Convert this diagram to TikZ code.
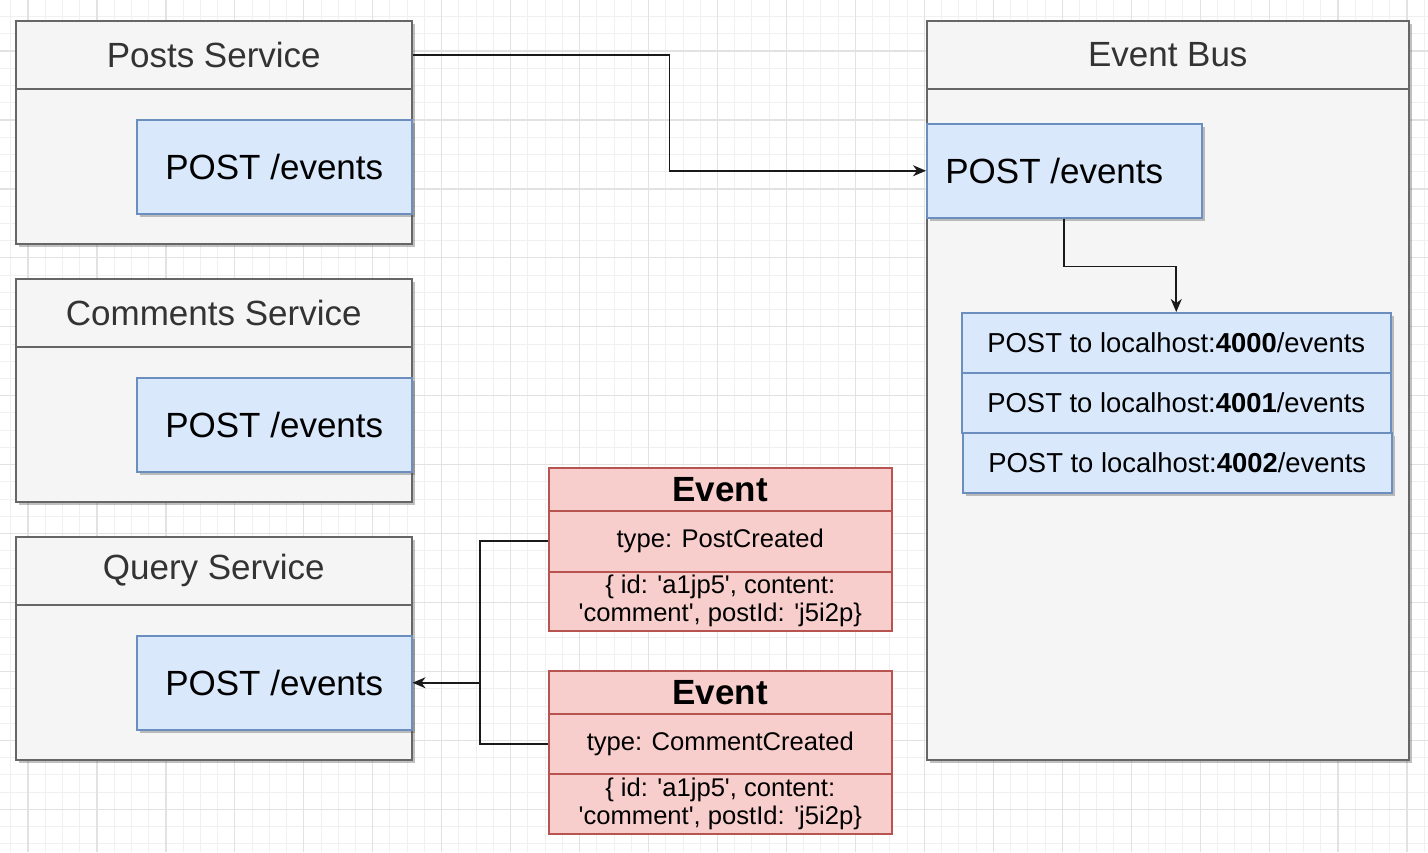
\documentclass[tikz,border=0pt]{standalone}
\usepackage{fontspec}
\setmainfont{Liberation Sans}
\usetikzlibrary{arrows.meta,shadows,calc}

\definecolor{grayfill}{HTML}{F5F5F5}
\definecolor{graystroke}{HTML}{666666}
\definecolor{bluefill}{HTML}{DAE8FC}
\definecolor{bluestroke}{HTML}{6C8EBF}
\definecolor{redfill}{HTML}{F8CECC}
\definecolor{redstroke}{HTML}{B85450}
\definecolor{headtext}{HTML}{333333}
\definecolor{linecol}{HTML}{1A1A1A}
\definecolor{gridmajor}{HTML}{E2E2E2}
\definecolor{gridminor}{HTML}{F0F0F0}

\newcommand{\sq}{\textquotesingle}

\tikzset{
  shade3/.style={drop shadow={shadow xshift=1.5pt,shadow yshift=-1.5pt,opacity=0.35,fill=black!70}},
  base/.style={line width=0.75pt,inner sep=0pt,anchor=north west},
  service/.style={base,draw=graystroke,fill=grayfill,minimum width=#1,minimum height=111.5pt,shade3},
  header/.style={base,draw=graystroke,minimum width=#1,minimum height=34pt,text=headtext,
    font=\fontsize{17.5pt}{21pt}\selectfont},
  endpoint/.style={base,draw=bluestroke,fill=bluefill,minimum width=137.5pt,minimum height=47pt,
    font=\fontsize{17.5pt}{21pt}\selectfont,shade3},
  target/.style={base,draw=bluestroke,fill=bluefill,minimum width=214.5pt,minimum height=30pt,
    font=\fontsize{13.7pt}{16pt}\selectfont,shade3},
  evpart/.style={base,draw=redstroke,fill=redfill,minimum width=171.5pt,minimum height=#1,
    align=center,font=\fontsize{12.8pt}{14pt}\selectfont},
  evtitle/.style={evpart=21.5pt,font=\fontsize{17.5pt}{21pt}\selectfont\bfseries},
  conn/.style={draw=linecol,line width=0.8pt},
  tip/.style={-{Stealth[length=6.5pt,width=5.5pt,inset=2pt]}},
}

\begin{document}
\begin{tikzpicture}[x=0.5pt,y=-0.5pt]
  % page and grid
  \useasboundingbox (0,0) rectangle (1428,852);
  \fill[white] (0,0) rectangle (1428,852);
  \begin{scope}
    \clip (0,0) rectangle (1428,852);
    \foreach \i in {-2,...,83}
      \draw[gridminor,line width=0.5pt] ({28+\i*17.2375},0) -- ({28+\i*17.2375},852);
    \foreach \i in {-4,...,48}
      \draw[gridminor,line width=0.5pt] (0,{51+\i*17.2375}) -- (1428,{51+\i*17.2375});
    \foreach \i in {0,...,20}
      \draw[gridmajor,line width=0.6pt] ({28+\i*68.95},0) -- ({28+\i*68.95},852);
    \foreach \i in {-1,...,12}
      \draw[gridmajor,line width=0.6pt] (0,{51+\i*68.95}) -- (1428,{51+\i*68.95});
  \end{scope}

  % Posts Service
  \node[service=198pt] (posts) at (15,20) {};
  \node[header=198pt] (postsH) at (15,20) {Posts Service};
  \node[endpoint] (postsE) at (136,119) {POST /events};

  % Comments Service
  \node[service=198pt] (comments) at (15,278) {};
  \node[header=198pt] (commentsH) at (15,278) {Comments Service};
  \node[endpoint] (commentsE) at (136,377) {POST /events};

  % Query Service
  \node[service=198pt] (query) at (15,536) {};
  \node[header=198pt] (queryH) at (15,536) {Query Service};
  \node[endpoint] (queryE) at (136,635) {POST /events};

  % Event Bus
  \node[service=241pt,minimum height=369.5pt] (bus) at (926,20) {};
  \node[header=241pt] (busH) at (926,20) {Event Bus};
  \node[endpoint] (busE) at (926,123) {POST /events\kern10pt};
  \node[target] (r1) at (961,312) {POST to localhost:\textbf{4000}/events};
  \node[target] (r2) at (961,372) {POST to localhost:\textbf{4001}/events};
  \node[target] (r3) at (962,432) {POST to localhost:\textbf{4002}/events};

  % Events
  \node[evtitle] (ev1H) at (548,467) {Event};
  \node[evpart=30.5pt] (ev1T) at (548,510) {type: PostCreated};
  \node[evpart=29.5pt] (ev1C) at (548,571) {\{ id: \sq a1jp5\sq, content:\\\sq comment\sq, postId: \sq j5i2p\}};

  \node[evtitle] (ev2H) at (548,670) {Event};
  \node[evpart=30pt] (ev2T) at (548,713) {type: CommentCreated};
  \node[evpart=30pt] (ev2C) at (548,773) {\{ id: \sq a1jp5\sq, content:\\\sq comment\sq, postId: \sq j5i2p\}};

  % Connectors
  \draw[conn,tip] (postsH.east) -- ++(257,0) |- (busE.west);
  \draw[conn,tip] (busE.south) -- ++(0,48) -| (r1.north);
  \draw[conn] (ev1T.west) -- ++(-68,0) |- (ev2T.west);
  \coordinate (jx) at ($(ev1T.west)+(-68,0)$);
  \coordinate (junc) at (jx |- queryE.east);
  \draw[conn,tip] (junc) -- (queryE.east);
\end{tikzpicture}
\end{document}
